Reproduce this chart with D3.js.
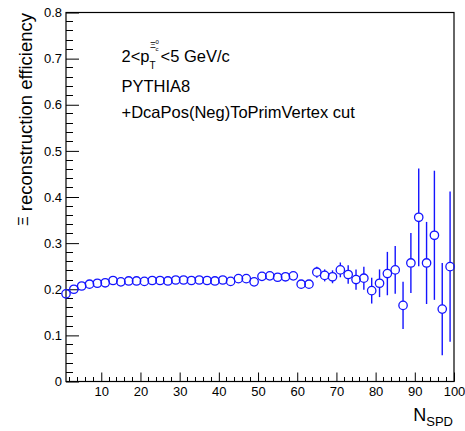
<!DOCTYPE html>
<html>
<head>
<meta charset="utf-8">
<script src="https://cdn.jsdelivr.net/npm/d3@7"></script>
<style>
  html, body { margin: 0; padding: 0; background: #fff; }
  svg { display: block; font-family: "Liberation Sans", Arial, Helvetica, sans-serif; }
</style>
</head>
<body>
<svg id="chart" width="465" height="431"></svg>
<script>
// Xi reconstruction efficiency vs. SPD tracklet multiplicity
const nSPD = [1, 3, 5, 7, 9, 11, 13, 15, 17, 19, 21, 23, 25, 27, 29, 31, 33, 35, 37, 39,
              41, 43, 45, 47, 49, 51, 53, 55, 57, 59, 61, 63, 65, 67, 69, 71, 73, 75, 77, 79,
              81, 83, 85, 87, 89, 91, 93, 95, 97, 99];
const efficiency = [0.190, 0.200, 0.207, 0.211, 0.213, 0.214, 0.219, 0.216, 0.218, 0.218,
                    0.217, 0.219, 0.219, 0.218, 0.220, 0.220, 0.219, 0.220, 0.219, 0.218,
                    0.220, 0.217, 0.223, 0.223, 0.216, 0.228, 0.229, 0.226, 0.227, 0.229,
                    0.211, 0.211, 0.237, 0.230, 0.227, 0.242, 0.232, 0.221, 0.224, 0.197,
                    0.213, 0.234, 0.242, 0.165, 0.257, 0.356, 0.257, 0.317, 0.157, 0.249];
const effError = [0.004, 0.004, 0.004, 0.004, 0.004, 0.004, 0.004, 0.004, 0.004, 0.004,
                  0.004, 0.004, 0.004, 0.004, 0.004, 0.005, 0.005, 0.005, 0.005, 0.005,
                  0.005, 0.005, 0.005, 0.005, 0.006, 0.007, 0.007, 0.007, 0.007, 0.007,
                  0.008, 0.009, 0.012, 0.013, 0.014, 0.016, 0.020, 0.022, 0.025, 0.028,
                  0.030, 0.047, 0.052, 0.051, 0.065, 0.106, 0.089, 0.140, 0.100, 0.163];

const xMajorTicks = [10, 20, 30, 40, 50, 60, 70, 80, 90, 100];
const xTickLabels = ["10", "20", "30", "40", "50", "60", "70", "80", "90", "100"];
const yMajorTicks = [0, 0.1, 0.2, 0.3, 0.4, 0.5, 0.6, 0.7, 0.8];
const yTickLabels = ["0", "0.1", "0.2", "0.3", "0.4", "0.5", "0.6", "0.7", "0.8"];
const infoLines = ["PYTHIA8", "+DcaPos(Neg)ToPrimVertex cut"];

const frame = { left: 66, right: 454, top: 12.5, bottom: 381.5 };
const markerColor = "#1414ff";

const svg = d3.select("#chart");

const x = d3.scaleLinear().domain([1, 100]).range([frame.left, frame.right]);
const y = d3.scaleLinear().domain([0, 0.8]).range([frame.bottom, frame.top]);

// minor ticks: 5 divisions per major interval
const xMinor = d3.range(2, 100, 2).filter(v => v % 10 !== 0);
const yMinor = d3.range(0, 80, 2).filter(v => v % 10 !== 0).map(v => v / 100);

// y axis
const yAxis = svg.append("g")
  .attr("transform", `translate(${frame.left},0)`)
  .call(d3.axisLeft(y).tickValues(yMajorTicks).tickSize(-13).tickPadding(4)
    .tickFormat((d, i) => yTickLabels[i]));
yAxis.select(".domain").remove();
yAxis.selectAll("line").attr("stroke", "#000").attr("stroke-width", 1);
yAxis.selectAll("text").attr("font-size", 13).attr("fill", "#000")
  .attr("font-family", "Liberation Sans, Arial, sans-serif");
yAxis.append("g").selectAll("line").data(yMinor).join("line")
  .attr("x1", 0).attr("x2", 7)
  .attr("y1", d => y(d)).attr("y2", d => y(d))
  .attr("stroke", "#000").attr("stroke-width", 1)
  .attr("shape-rendering", "crispEdges");

// x axis
const xAxis = svg.append("g")
  .attr("transform", `translate(0,${frame.bottom})`)
  .call(d3.axisBottom(x).tickValues(xMajorTicks).tickSize(-9).tickPadding(5)
    .tickFormat((d, i) => xTickLabels[i]));
xAxis.select(".domain").remove();
xAxis.selectAll("line").attr("stroke", "#000").attr("stroke-width", 1);
xAxis.selectAll("text").attr("font-size", 13).attr("fill", "#000")
  .attr("font-family", "Liberation Sans, Arial, sans-serif");
xAxis.append("g").selectAll("line").data(xMinor).join("line")
  .attr("x1", d => x(d)).attr("x2", d => x(d))
  .attr("y1", 0).attr("y2", -5)
  .attr("stroke", "#000").attr("stroke-width", 1)
  .attr("shape-rendering", "crispEdges");

// frame
svg.append("rect")
  .attr("x", frame.left).attr("y", frame.top)
  .attr("width", frame.right - frame.left).attr("height", frame.bottom - frame.top)
  .attr("fill", "none").attr("stroke", "#000").attr("stroke-width", 1.2);

// data: error bars drawn outside the open marker, then markers
const points = nSPD.map((n, i) => ({ n, v: efficiency[i], e: effError[i] }));
const r = 4.2;
const gData = svg.append("g");
points.forEach(p => {
  const cx = x(p.n), cy = y(p.v);
  const yHi = y(p.v + p.e), yLo = y(p.v - p.e);
  if (cy - yHi > r) {
    gData.append("line").attr("x1", cx).attr("x2", cx).attr("y1", yHi).attr("y2", cy - r)
      .attr("stroke", markerColor).attr("stroke-width", 1.4);
  }
  if (yLo - cy > r) {
    gData.append("line").attr("x1", cx).attr("x2", cx).attr("y1", cy + r).attr("y2", yLo)
      .attr("stroke", markerColor).attr("stroke-width", 1.4);
  }
});
gData.selectAll("circle").data(points).join("circle")
  .attr("cx", d => x(d.n)).attr("cy", d => y(d.v)).attr("r", r)
  .attr("fill", "none").attr("stroke", markerColor).attr("stroke-width", 1.3);

// axis titles
const yTitle = svg.append("text")
  .attr("transform", "translate(31.5,13) rotate(-90)")
  .attr("text-anchor", "end").attr("font-size", 18.5).attr("fill", "#000");
yTitle.append("tspan").attr("font-size", 15).attr("dy", -4).text("Ξ");
yTitle.append("tspan").attr("dy", 4).text(" reconstruction efficiency");

const xTitle = svg.append("text")
  .attr("x", 453).attr("y", 421).attr("text-anchor", "end")
  .attr("font-size", 18).attr("fill", "#000");
xTitle.append("tspan").text("N");
xTitle.append("tspan").attr("font-size", 13).attr("dy", 4.5).text("SPD");

// info text
const info = svg.append("g").attr("font-size", 16.5).attr("fill", "#000");
const ptLine = info.append("text").attr("x", 121.5).attr("y", 62);
ptLine.append("tspan").text("2<p");
const pEnd = 121.5 + ptLine.node().getComputedTextLength();
info.append("text").attr("x", pEnd).attr("y", 69).attr("font-size", 10).text("T");
info.append("text").attr("x", pEnd + 0.5).attr("y", 48).attr("font-size", 9).text("Ξ");
info.append("text").attr("x", pEnd + 6).attr("y", 51).attr("font-size", 6).text("c");
info.append("text").attr("x", pEnd + 6).attr("y", 44).attr("font-size", 6).text("0");
info.append("text").attr("x", pEnd + 11).attr("y", 62).text("<5 GeV/c");
infoLines.forEach((t, i) => {
  info.append("text").attr("x", 121.5).attr("y", 92 + i * 26).text(t);
});
</script>
</body>
</html>
